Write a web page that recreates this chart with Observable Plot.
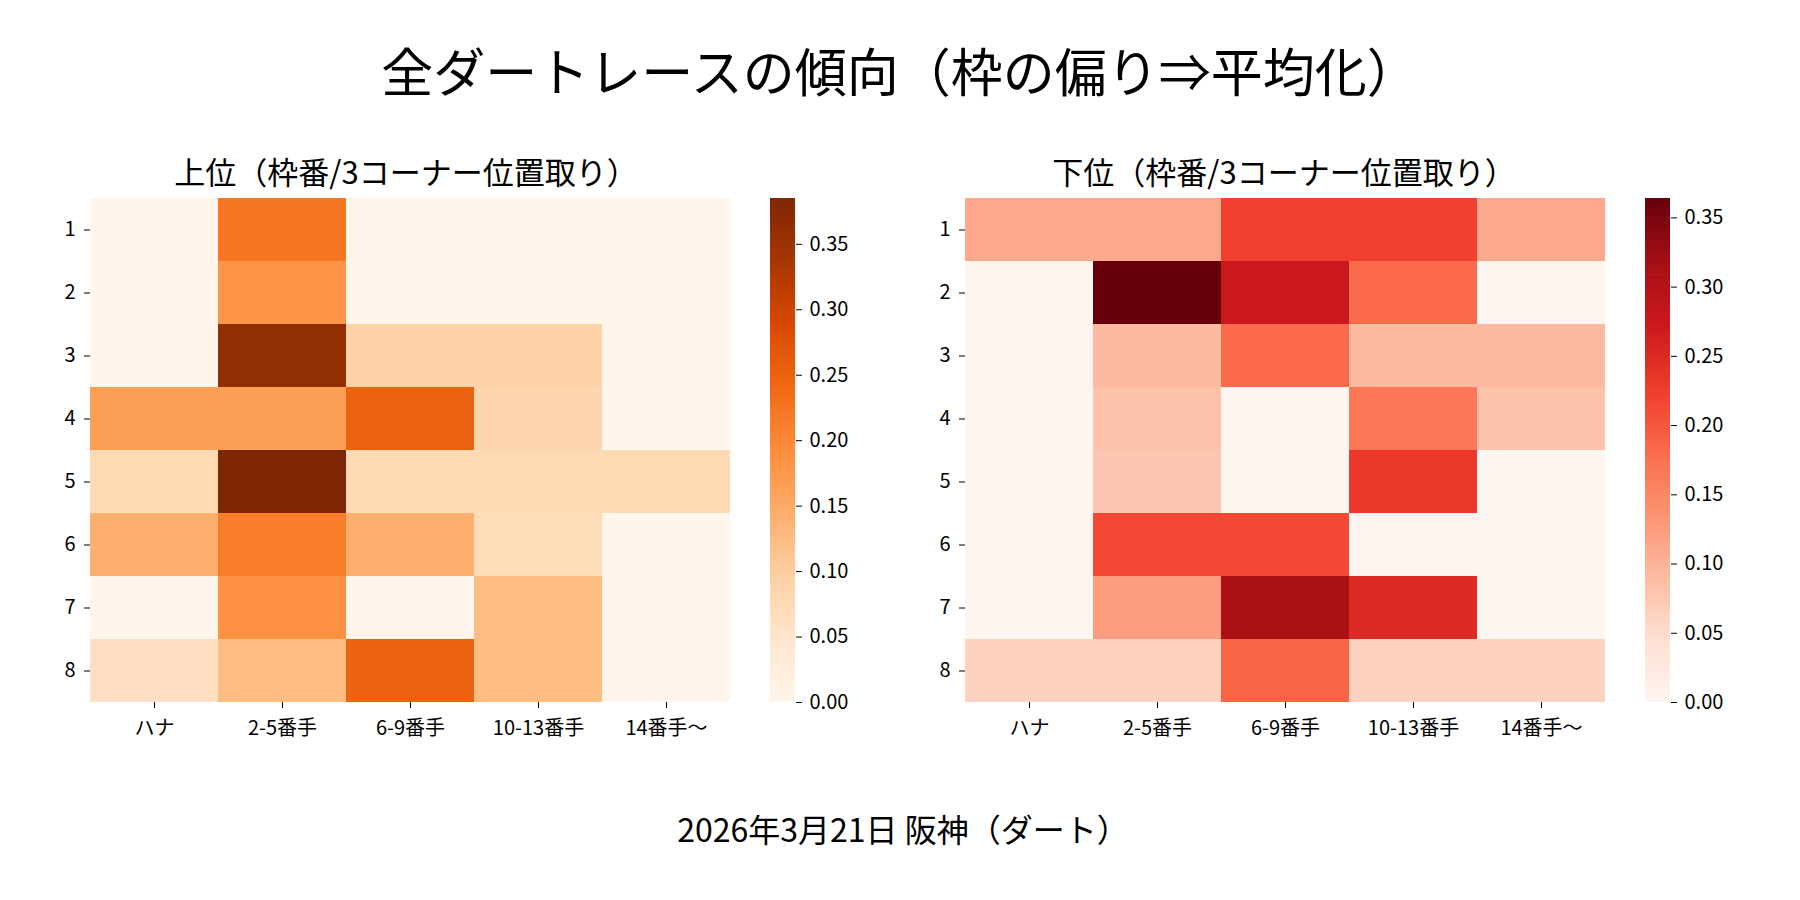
<!DOCTYPE html>
<html><head><meta charset="utf-8">
<script src="https://cdn.jsdelivr.net/npm/d3@7"></script>
<script src="https://cdn.jsdelivr.net/npm/@observablehq/plot@0.6"></script>
<style>
html,body{margin:0;padding:0;background:#fff;}
#fig{position:relative;width:1800px;height:900px;background:#fff;font-family:"Noto Sans CJK JP","Noto Sans",sans-serif;color:#000;overflow:hidden}
.t{position:absolute;white-space:nowrap;transform:translateX(-50%);line-height:1}
.abs{position:absolute}
</style></head><body>
<div id="fig"></div>
<script>
// ---- data ----
const positions = ["ハナ", "2-5番手", "6-9番手", "10-13番手", "14番手〜"];
const waku = ["1", "2", "3", "4", "5", "6", "7", "8"];
// 上位 (top finishers) — rows = 枠番 1..8, cols = positions
const topValues = [
  [0,      0.222, 0,      0,      0],
  [0,      0.182, 0,      0,      0],
  [0,      0.364, 0.091,  0.091,  0],
  [0.167,  0.167, 0.25,   0.083,  0],
  [0.077,  0.385, 0.077,  0.077,  0.077],
  [0.143,  0.214, 0.143,  0.071,  0],
  [0,      0.1875,0,      0.125,  0],
  [0.0625, 0.125, 0.25,   0.125,  0]
];
// 下位 (bottom finishers)
const bottomValues = [
  [0.111,  0.111, 0.222,  0.222,  0.111],
  [0,      0.364, 0.273,  0.182,  0],
  [0,      0.091, 0.182,  0.091,  0.091],
  [0,      0.083, 0,      0.167,  0.083],
  [0,      0.077, 0,      0.231,  0],
  [0,      0.214, 0.214,  0,      0],
  [0,      0.125, 0.3125, 0.25,   0],
  [0.0625, 0.0625,0.1875, 0.0625, 0.0625]
];
const colorTicks = [0, 0.05, 0.10, 0.15, 0.20, 0.25, 0.30, 0.35];
const orangeStops = ["#fff5eb","#fee6ce","#fdd0a2","#fdae6b","#fd8d3c","#f16913","#d94801","#a63603","#7f2704"];
const redStops = ["#fff5f0","#fee0d2","#fcbba1","#fc9272","#fb6a4a","#ef3b2c","#cb181d","#a50f15","#67000d"];
const mainTitle = "全ダートレースの傾向（枠の偏り⇒平均化）";
const leftTitle = "上位（枠番/3コーナー位置取り）";
const rightTitle = "下位（枠番/3コーナー位置取り）";
const caption = "2026年3月21日 阪神（ダート）";

// ---- drawing ----
const FONT = '"Noto Sans CJK JP","Noto Sans",sans-serif';
const fig = document.getElementById("fig");

function addText(txt, x, top, size) {
  const d = document.createElement("div");
  d.className = "t";
  d.textContent = txt;
  d.style.left = x + "px";
  d.style.top = top + "px";
  d.style.fontSize = size + "px";
  fig.appendChild(d);
}
function place(node, left, top) {
  node.classList.add("abs");
  node.style.left = left + "px";
  node.style.top = top + "px";
  fig.appendChild(node);
}

function panel(values, stops, offsetX) {
  const data = values.flatMap((row, i) => row.map((v, j) => ({waku: waku[i], pos: positions[j], value: v})));
  const max = d3.max(data, d => d.value);
  const domain = stops.map((_, k) => k / (stops.length - 1) * max);
  const color = {type: "linear", domain, range: stops, interpolate: "rgb"};
  const style = {fontFamily: FONT, fontSize: "20px", background: "transparent", color: "#000", overflow: "visible"};

  const hm = Plot.plot({
    width: 760, height: 600,
    marginLeft: 90, marginRight: 30, marginTop: 48, marginBottom: 48,
    style,
    x: {domain: positions, padding: 0, label: null},
    y: {domain: waku, padding: 0, label: null},
    color,
    marks: [
      Plot.cell(data, {x: "pos", y: "waku", fill: "value", shapeRendering: "crispEdges"}),
      Plot.axisX({tickSize: 6, tickPadding: 12, label: null, fontSize: 20}),
      Plot.axisY({tickSize: 6, tickPadding: 9, label: null, fontSize: 20})
    ]
  });
  place(hm, offsetX, 150);

  const step = max / 400;
  const bands = d3.range(0, max, step);
  const cb = Plot.plot({
    width: 120, height: 600,
    marginLeft: 0, marginRight: 95, marginTop: 48, marginBottom: 48,
    style,
    x: {domain: [0, 1], axis: null},
    y: {domain: [0, max], label: null},
    color,
    marks: [
      Plot.rect(bands, {x1: 0, x2: 1, y1: d => d, y2: d => Math.min(max, d + step * 1.6), fill: d => d + step / 2}),
      Plot.axisY({anchor: "right", ticks: colorTicks, tickFormat: d3.format(".2f"), tickSize: 6, tickPadding: 8, label: null, fontSize: 20})
    ]
  });
  place(cb, offsetX + 770, 150);
}

addText(mainTitle, 900, 44, 52);
addText(leftTitle, 406, 155, 31);
addText(rightTitle, 1284, 155, 31);
addText(caption, 903, 812, 32);
panel(topValues, orangeStops, 0);
panel(bottomValues, redStops, 875);
</script>
</body></html>
